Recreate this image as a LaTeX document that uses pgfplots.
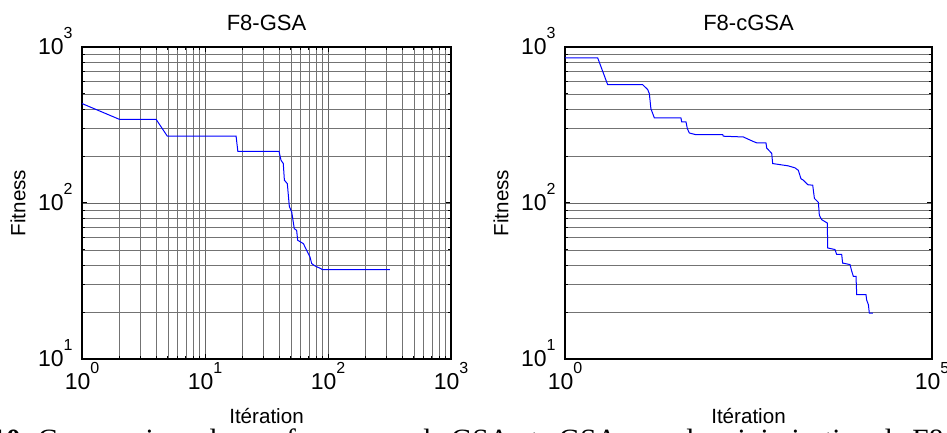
\documentclass[border=0pt]{standalone}
\usepackage{fontspec}
\setmainfont{Liberation Sans}
\newfontfamily\capfont{Liberation Serif}
\usepackage{pgfplots}
\pgfplotsset{compat=1.18}

% MATLAB-like log tick label: 10 with raised exponent
\newcommand\logtick[1]{\pgfmathtruncatemacro\myexp{round(#1)}10\smash{\raisebox{8pt}{\fontsize{8}{8}\selectfont\myexp}}}

\pgfplotsset{
  every axis/.append style={
    scale only axis,
    ymin=10, ymax=1000,
    axis line style={black, line width=0.6pt},
    tick align=inside,
    major tick length=2.5pt,
    minor tick length=1.5pt,
    every tick/.style={black, line width=0.5pt},
    major grid style={black!60, line width=0.35pt},
    minor grid style={black!55, line width=0.35pt},
    xticklabel={\logtick{\tick}},
    yticklabel={\logtick{\tick}},
    ticklabel style={font=\fontsize{11.5}{11.5}\selectfont},
    xticklabel style={yshift=-3.5pt},
    yticklabel style={xshift=-1.2pt},
    title style={at={(axis description cs:0.5,1)}, anchor=base, yshift=2pt,
                 font=\fontsize{11}{11}\selectfont},
    xlabel style={at={(axis description cs:0.5,0)}, anchor=base, yshift=-32.5pt,
                  font=\fontsize{10.3}{10.3}\selectfont},
    ylabel style={at={(axis description cs:0,0.5)}, anchor=center, yshift=32pt,
                  font=\fontsize{10.3}{10.3}\selectfont},
    xlabel={Itération},
    ylabel={Fitness},
  },
}

\begin{document}
\begin{tikzpicture}[x=1pt,y=1pt]
\useasboundingbox (0,0) rectangle (473.5,216.5);
\clip (0,0) rectangle (473.5,216.5);

\begin{loglogaxis}[
  log basis x=10, log basis y=10,
  anchor=south west,
  at={(41pt,37pt)},
  width=184.5pt, height=156pt,
  xmin=1, xmax=1000,
  grid=both,
  title={F8-GSA},
]
\addplot[blue, line width=0.5pt] coordinates {
 (1,434) (2.01,344) (4.0,344) (4.94,268) (17.9,268) (18.5,214) (40,214)
 (41.5,188) (43.3,179) (44.2,140) (46.7,133) (48.5,95) (50.7,87.5)
 (53.2,68.5) (55.6,66.8) (56.7,57.7) (63.1,54.9) (67.1,49.7) (71.4,45.1)
 (73.7,40.9) (78.4,39.5) (87.2,38) (90,37.4) (319,37.4)
};
\end{loglogaxis}

\begin{loglogaxis}[
  log basis x=10, log basis y=10,
  anchor=south west,
  at={(282.5pt,37pt)},
  width=183.5pt, height=156pt,
  xmin=1, xmax=100000,
  xtick={1,100000},
  xminorticks=false,
  ymajorgrids, yminorgrids,
  title={F8-cGSA},
]
\addplot[blue, line width=0.5pt] coordinates {
 (1,851) (2.79,851) (3.81,574) (11.4,574) (13.4,533) (14.1,502) (14.8,402)
 (16.5,351) (38,351) (38.9,331) (44.5,331) (46.4,300) (49.4,281) (61,274)
 (141,274) (143.5,268) (269,265) (299,259) (360,249) (408,243) (547,243)
 (560,225) (655,208) (675,179) (1100,173) (1360,168) (1510,162) (1640,143)
 (1770,140) (2030,131) (2370,130) (2500,107) (2830,101) (2920,83.4)
 (3140,78.2) (3750,74.4) (3790,51.5) (4770,50.3) (5020,46.9) (5880,46.9)
 (6060,41.2) (7640,40.3) (8050,36.6) (8480,33.9) (9220,33.9) (9420,25.9)
 (12600,25.9) (12900,23.8) (13600,22.3) (14000,19.7) (15600,19.7)
};
\end{loglogaxis}

\node[anchor=base west, inner sep=0pt, font=\capfont\fontsize{14.7}{14.7}\selectfont]
  at (-4.5,-8.5) {\textbf{10.} Comparaison des performances de GSA et cGSA pour la minimisation de F8};
\end{tikzpicture}
\end{document}
